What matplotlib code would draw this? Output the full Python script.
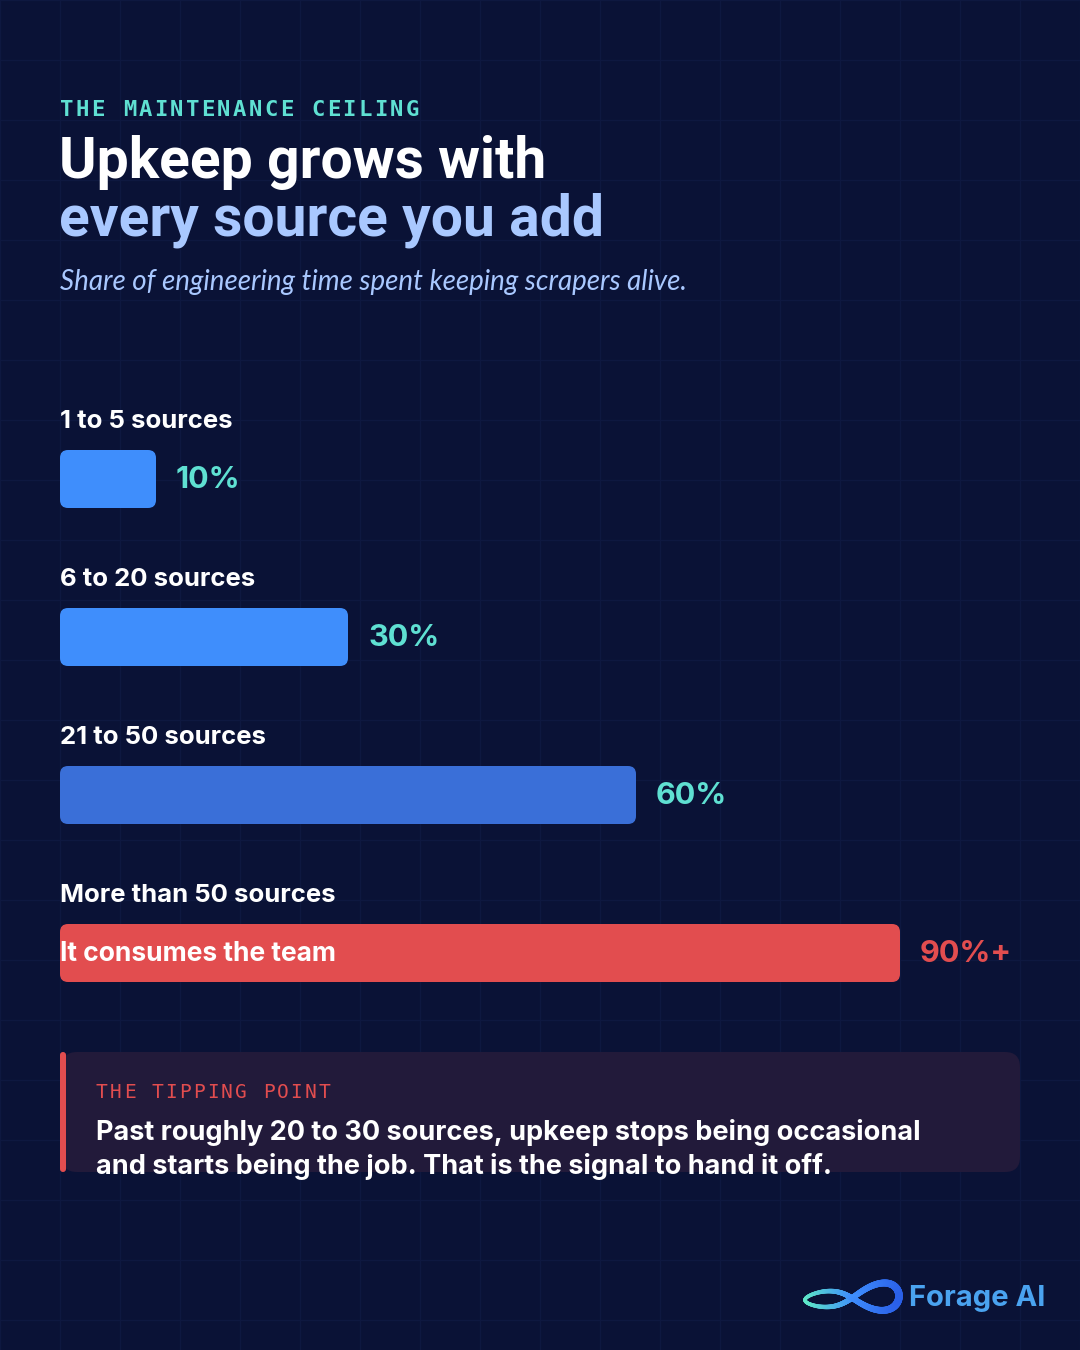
import numpy as np
import matplotlib
matplotlib.use("Agg")
import matplotlib.pyplot as plt
from matplotlib.patches import FancyBboxPatch
from matplotlib.collections import LineCollection

# data
categories = ["1 to 5 sources", "6 to 20 sources", "21 to 50 sources", "More than 50 sources"]
shares = [10, 30, 60, 87.5]          # drawn bar length, % of the track
value_labels = ["10%", "30%", "60%", "90%+"]
bar_colors = ["#3f8efc", "#3f8efc", "#3a6fd8", "#e24d4f"]
label_colors = ["#5fe0d2", "#5fe0d2", "#5fe0d2", "#e24d4f"]
inside_labels = ["", "", "", "It consumes the team"]

BG = "#0a1236"
GRID = "#0e1840"
W, H = 1080, 1350

plt.rcParams["font.family"] = ["Inter", "DejaVu Sans"]

fig = plt.figure(figsize=(W / 100, H / 100), dpi=100, facecolor=BG)

# background axes in pixel units
bg = fig.add_axes([0, 0, 1, 1])
bg.set_xlim(0, W)
bg.set_ylim(H, 0)
bg.axis("off")
bg.set_facecolor(BG)
for g in range(0, W + 1, 60):
    bg.axvline(g, color=GRID, lw=1, zorder=0)
for g in range(0, H + 1, 60):
    bg.axhline(g, color=GRID, lw=1, zorder=0)


def spaced(ax, x, y, s, step, **kw):
    # monospace label with wide tracking
    for i, ch in enumerate(s):
        ax.text(x + i * step, y, ch, **kw)


# header
spaced(bg, 60, 110, "THE MAINTENANCE CEILING", 15.7, color="#5fe0d2",
       fontsize=16, fontweight="bold", family="DejaVu Sans Mono", va="center", ha="left")
bg.text(59, 178, "Upkeep grows with", color="white", fontsize=41, fontweight="bold",
        family=["Roboto", "DejaVu Sans"], va="baseline", ha="left")
bg.text(59, 236, "every source you add", color="#a9c8ff", fontsize=41, fontweight="bold",
        family=["Roboto", "DejaVu Sans"], va="baseline", ha="left")
bg.text(60, 290, "Share of engineering time spent keeping scrapers alive.", color="#a9c8ff",
        fontsize=20, style="italic", family=["Lato", "DejaVu Sans"], va="baseline", ha="left")

# bar axes: x in percent of the track (60px .. 1020px), y in pixels
ax = fig.add_axes([60 / W, 0, 960 / W, 1])
ax.set_xlim(0, 100)
ax.set_ylim(H, 0)
ax.axis("off")
ax.patch.set_alpha(0)

px_per_pct = 9.6
row_top = 450
row_gap = 158
bar_h = 58
for i, (cat, v) in enumerate(zip(categories, shares)):
    y0 = row_top + i * row_gap
    box = FancyBboxPatch((0, y0), v, bar_h,
                         boxstyle="round,pad=0,rounding_size=%.3f" % (8 / px_per_pct),
                         mutation_aspect=px_per_pct, fc=bar_colors[i], ec="none", zorder=3)
    ax.add_patch(box)
    ax.text(0, y0 - 29, cat, color="white", fontsize=18.5, fontweight="bold",
            va="center", ha="left")
    ax.text(v + 20 / px_per_pct, y0 + bar_h / 2 + 1, value_labels[i], color=label_colors[i],
            fontsize=22, fontweight="bold", va="center", ha="left")
    if inside_labels[i]:
        ax.text(0, y0 + bar_h / 2 + 1, inside_labels[i], color="white", fontsize=19,
                fontweight="bold", va="center", ha="left", zorder=4)

# callout box
call = FancyBboxPatch((62, 1052), 958, 120, boxstyle="round,pad=0,rounding_size=15",
                      fc="#221a3a", ec="none", zorder=2)
bg.add_patch(call)
bg.add_patch(FancyBboxPatch((60, 1052), 6, 120, boxstyle="round,pad=0,rounding_size=3",
                            fc="#e24d4f", ec="none", zorder=3))
spaced(bg, 96, 1093, "THE TIPPING POINT", 13.9, color="#e24d4f", fontsize=14,
       family="DejaVu Sans Mono", va="center", ha="left", zorder=4)
bg.text(96, 1140, "Past roughly 20 to 30 sources, upkeep stops being occasional",
        color="white", fontsize=19.5, fontweight="bold", va="baseline", ha="left", zorder=4)
bg.text(96, 1174, "and starts being the job. That is the signal to hand it off.",
        color="white", fontsize=19.5, fontweight="bold", va="baseline", ha="left", zorder=4)

# logo: infinity ribbon with teal-to-blue gradient, right lobe larger
t = np.linspace(0, 2 * np.pi, 400)
lx = np.cos(t) / (1 + np.sin(t) ** 2)
ly = np.sin(t) * np.cos(t) / (1 + np.sin(t) ** 2)
px = 852 + lx * 47
py = 1298 - ly * 30 * (1 + 0.45 * lx) - 2 * lx
pts = np.column_stack([px, py]).reshape(-1, 1, 2)
segs = np.concatenate([pts[:-1], pts[1:]], axis=1)
cmap = matplotlib.colors.LinearSegmentedColormap.from_list("logo", ["#5ee8c8", "#3f8efc", "#2a5fe8"])
widths = 2.5 + 3.0 * (px[:-1] - 805) / 95
lc = LineCollection(segs, colors=cmap((px[:-1] - 805) / 95), linewidths=widths,
                    capstyle="round", zorder=5)
bg.add_collection(lc)
bg.text(909, 1298, "Forage AI", color="#4aa3f0", fontsize=21, fontweight="bold",
        va="center", ha="left")

fig.savefig("out.png", dpi=100, facecolor=BG)
